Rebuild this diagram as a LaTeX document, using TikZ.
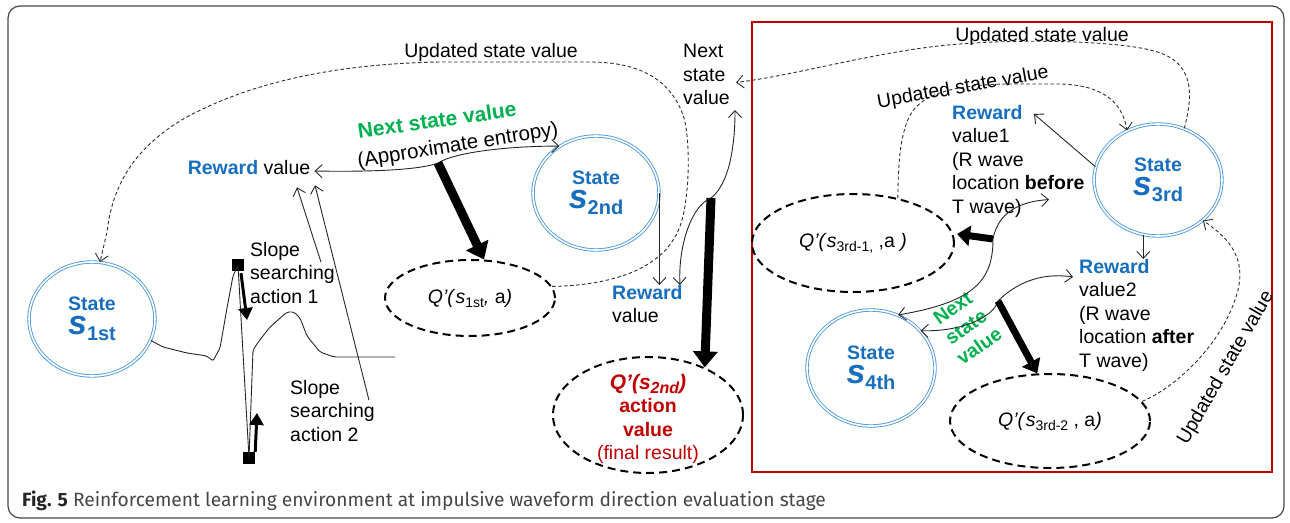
\documentclass[tikz,border=0pt]{standalone}
\usepackage{fontspec}
\setmainfont{Liberation Sans}
\newfontfamily\capfont{Fira Sans}
\usepackage{xcolor}
\usepackage{tikz}
\usetikzlibrary{arrows,arrows.meta,shapes.arrows,positioning,shapes,calc}
\definecolor{stblue}{RGB}{24,110,190}
\definecolor{ringblue}{RGB}{80,155,220}
\definecolor{nxgreen}{RGB}{0,176,80}
\definecolor{qred}{RGB}{192,0,0}
\definecolor{dashgray}{RGB}{45,45,45}
\definecolor{capgray}{RGB}{70,70,70}
\newcommand{\sname}[1]{{\fontsize{34}{34}\selectfont\itshape s}\raisebox{-6pt}{\fontsize{20}{20}\selectfont #1}}
\newcommand{\qsub}[1]{\textit{s}\raisebox{-4pt}{\fontsize{14}{14}\selectfont #1}}

\begin{document}
\begin{tikzpicture}[x = 1pt, y = -1pt,
  font = \fontsize{19.5}{23.5}\selectfont,
  txt/.style = {inner sep = 0pt},
  statecircle/.style = {ellipse, draw = ringblue, double = white, double distance = 1.6pt, line width = 0.9pt, inner sep = 0pt, align = center, text = stblue, font = \fontsize{19.5}{23.5}\selectfont\bfseries},
  qnode/.style = {ellipse, draw, line width = 2pt, dash pattern = on 8pt off 5pt, inner sep = 0pt},
  sq/.style = {fill = black, minimum size = 12pt, inner sep = 0pt},
  wave/.style = {draw = black!85, line width = 0.9pt, rounded corners = 2pt},
  conn/.style = {draw = black!85, line width = 0.9pt},
  upd/.style = {draw = dashgray, line width = 0.9pt, dash pattern = on 3.5pt off 2.5pt},
  barb/.style = {-{Straight Barb[length = 7pt, width = 13pt]}},
  barbs/.style = {{Straight Barb[length = 7pt, width = 13pt]}-{Straight Barb[length = 7pt, width = 13pt]}},
  bigarrow/.style = {line width = 9pt, -{Triangle[length = 16pt, width = 24pt]}},
  midarrow/.style = {line width = 7pt, -{Triangle[length = 13pt, width = 20pt]}},
  smallarrow/.style = {line width = 3pt, -{Triangle[length = 12pt, width = 14pt]}}]
\useasboundingbox (0,0) rectangle (1290,522);
\draw[capgray, line width = 1.2pt, rounded corners = 12pt] (8,6) rectangle (1284,518);
\draw[qred, line width = 2.6pt] (752,22) rectangle (1272,472);

\node[statecircle, minimum width = 126pt, minimum height = 114pt] (s1) at (92,319) {State\\[0pt]\sname{1st}};
\node[statecircle, minimum width = 126pt, minimum height = 114pt] (s2) at (596,193) {State\\[0pt]\sname{2nd}};
\node[statecircle, minimum width = 128pt, minimum height = 112pt] (s3) at (1158,180) {State\\[0pt]\sname{3rd}};
\node[statecircle, minimum width = 128pt, minimum height = 116pt] (s4) at (871,368) {State\\[0pt]\sname{4th}};

\node[qnode, minimum width = 170pt, minimum height = 76pt] (q1) at (470,298) {\textit{Q’(}\qsub{1st}\textit{,} a\textit{)}};
\node[qnode, minimum width = 190pt, minimum height = 116pt] (q2) at (648,415) {};
\node[txt, align = center, text = qred] (q2t) at (648,419) {{\fontsize{21}{24}\selectfont\bfseries\itshape Q’(s\raisebox{-4pt}{\fontsize{16}{16}\selectfont 2nd})}\\\textbf{action}\\\textbf{value}\\(final result)};
\node[qnode, minimum width = 202pt, minimum height = 98pt] (q31) at (853,243) {\textit{Q’(}\qsub{3rd-1,} ,a\textit{ )}};
\node[qnode, minimum width = 200pt, minimum height = 94pt] (q32) at (1050,421) {\textit{Q’(}\qsub{3rd-2} , a\textit{)}};

\node[txt] (rw1) at (249,168) {\textcolor{stblue}{\textbf{Reward}} value};
\node[txt, anchor = north west, align = left] (rw2) at (612,285) {\textcolor{stblue}{\textbf{Reward}}\\value};
\node[txt, anchor = north west, align = left] (rw31) at (952,105) {\textcolor{stblue}{\textbf{Reward}}\\value1\\(R wave\\location \textbf{before}\\T wave)};
\node[txt, anchor = north west, align = left] (rw32) at (1079,259) {\textcolor{stblue}{\textbf{Reward}}\\value2\\(R wave\\location \textbf{after}\\T wave)};

\node[txt, anchor = north west, align = left] (sl1) at (250,242) {Slope\\searching\\action 1};
\node[txt, anchor = north west, align = left] (sl2) at (290,380) {Slope\\searching\\action 2};
\node[sq] (sq1) at (238,265) {};
\node[sq] (sq2) at (249,458) {};

\node[txt] (upd1) at (491,52) {Updated state value};
\node[txt] (upd2) at (1042,36) {Updated state value};
\node[txt, rotate = 10] (upd3) at (963,88) {Updated state value};
\node[txt, rotate = 60] (upd4) at (1226,368) {Updated state value};

\node[txt, rotate = 8, text = nxgreen, font = \fontsize{21}{24}\selectfont\bfseries] (nsv1) at (437,120) {Next state value};
\node[txt, rotate = 9, font = \fontsize{20.5}{24}\selectfont] (ent) at (458,146) {(Approximate entropy)};
\node[txt, anchor = north west, align = left] (nsv2) at (683,44) {Next\\state\\value};
\node[txt, rotate = 35, align = center, text = nxgreen, font = \fontsize{19.5}{23}\selectfont\bfseries] (nsv3) at (966,327) {Next\\state\\value};

\node[txt, anchor = base west, text = capgray, font = \capfont\fontsize{19.2}{22}\selectfont] (cap) at (22,506) {\textcolor{black!85}{\textbf{Fig. 5}} Reinforcement learning environment at impulsive waveform direction evaluation stage};

\coordinate (k1) at (438,163);
\coordinate (k2) at (711,198);
\coordinate (k3) at (993,239);
\coordinate (k4) at (998,301);
\coordinate (a1) at (247,320);
\coordinate (a2) at (257,413);

\draw[wave] (s1.-20) -- (163,347) -- (187,353) -- (207,356) -- (213,361) -- (220,348) -- (227,308) -- (233,276) -- (sq1.center) -- (sq2.center) -- (253,350) -- (259,341) -- (270,327) -- (287,312) -- (294,312) -- (300,318) -- (307,336) -- (320,352) -- (334,357) -- (395,357);
\draw[smallarrow] ($(sq1.south)+(3,2)$) -- (a1);
\draw[smallarrow] (sq2.north east) -- (a2);
\draw[conn, barb] ($(sl1.north east)+(-14,20)$) -- ($(rw1.south)+(48,12)$);
\draw[conn, barb] ($(sl2.north east)+(-6,20)$) -- ($(rw1.south)+(66,10)$);

\draw[conn, barbs] ($(rw1.east)+(4,3)$) .. controls (370,172) and (420,170) .. (k1) .. controls (455,152) and (510,146) .. (s2.128);
\draw[bigarrow] (k1) -- (q1.70);
\draw[upd, barb] (q1.8) .. controls (620,285) and (670,265) .. (682,220) .. controls (690,190) and (690,140) .. (684,118) .. controls (672,80) and (640,62) .. (590,62) -- (440,62) .. controls (320,64) and (240,88) .. (185,118) .. controls (130,150) and (112,190) .. (107,232) -- (s1.82);

\draw[conn, barb] (s2.east) -- (s2.east |- rw2.north);
\draw[bigarrow] (k2) -- (q2.40);
\draw[conn, barb] (k2) .. controls (728,185) and (735,150) .. ($(nsv2.south east)+(5,5)$);
\draw[conn, barb] (k2) .. controls (692,205) and (678,245) .. ($(rw2.north west)+(68,0)$);

\draw[upd, barb] (s3.63) .. controls (1193,95) and (1196,60) .. (1150,50) .. controls (1110,40) and (1000,38) .. (930,47) .. controls (860,56) and (790,76) .. ($(nsv2.east)+(6,8)$);
\draw[conn, barb] (s3.168) -- ($(rw31.north west)+(82,9)$);
\draw[upd, barb] (q31.45) .. controls (898,165) and (900,125) .. (915,108) .. controls (932,90) and (965,85) .. (1005,84) -- (1060,84) .. controls (1100,85) and (1122,100) .. (s3.122);

\draw[midarrow] (k3) -- ($(q31.east)+(2,-9)$);
\draw[conn, barb] (k3) .. controls (997,218) and (1012,202) .. ($(rw31.south west)+(97,-18)$);
\draw[conn, barb] (k3) .. controls (993,280) and (975,302) .. (s4.63);

\draw[conn, barb] (k4) .. controls (1015,284) and (1040,272) .. ($(rw32.north west)+(-6,18)$);
\draw[conn, barb] (k4) .. controls (993,318) and (960,332) .. (s4.37);
\draw[midarrow] (k4) -- (q32.105);

\draw[conn, barb] (s3.255) -- (s3.255 |- rw32.north);
\draw[upd, barb] (q32.12) .. controls (1180,385) and (1225,340) .. (1238,290) .. controls (1245,260) and (1232,240) .. (s3.-42);
\end{tikzpicture}
\end{document}
